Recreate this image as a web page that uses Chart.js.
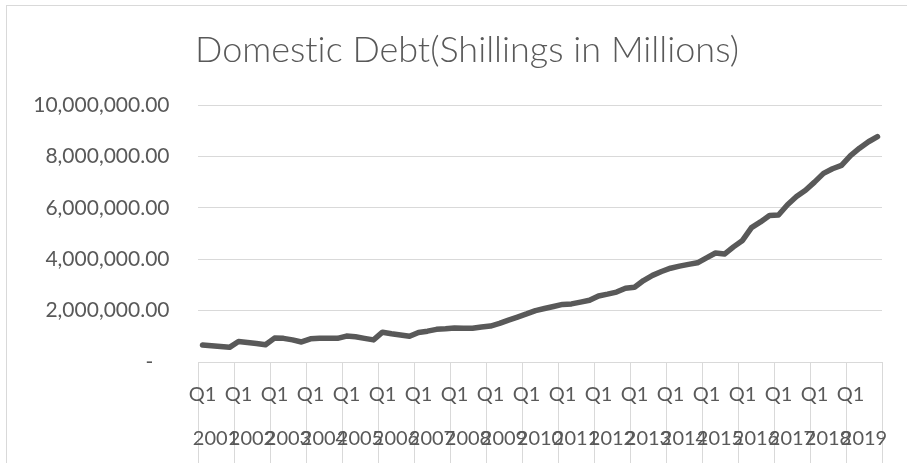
<!DOCTYPE html>
<html>
<head>
<meta charset="utf-8">
<script src="https://cdn.jsdelivr.net/npm/chart.js@4/dist/chart.umd.min.js"></script>
<style>
  html, body { margin: 0; padding: 0; background: #ffffff; overflow: hidden; }
  #frame {
    position: absolute; left: 6px; top: 5px; width: 2000px; height: 2000px;
    border: 1px solid #d9d9d9; box-sizing: border-box;
  }
  #chart { position: absolute; left: 0; top: 0; }
</style>
</head>
<body>
<div id="frame"></div>
<canvas id="chart" width="907" height="463"></canvas>
<script>
// Quarterly domestic debt, Shillings in millions
const years = ['2001','2002','2003','2004','2005','2006','2007','2008','2009','2010',
               '2011','2012','2013','2014','2015','2016','2017','2018','2019'];
const quarters = ['Q1','Q2','Q3','Q4'];
const debt = [
  660000, 630000, 600000, 570000,      // 2001
  800000, 760000, 720000, 670000,      // 2002
  930000, 920000, 860000, 780000,      // 2003
  900000, 920000, 920000, 920000,      // 2004
  1010000, 980000, 920000, 860000,     // 2005
  1160000, 1100000, 1050000, 1000000,  // 2006
  1150000, 1200000, 1270000, 1290000,  // 2007
  1320000, 1310000, 1310000, 1360000,  // 2008
  1400000, 1500000, 1630000, 1750000,  // 2009
  1870000, 2000000, 2080000, 2160000,  // 2010
  2240000, 2260000, 2330000, 2400000,  // 2011
  2570000, 2640000, 2720000, 2870000,  // 2012
  2910000, 3170000, 3370000, 3520000,  // 2013
  3650000, 3730000, 3800000, 3860000,  // 2014
  4050000, 4240000, 4200000, 4480000,  // 2015
  4730000, 5230000, 5450000, 5700000,  // 2016
  5720000, 6120000, 6440000, 6680000,  // 2017
  7000000, 7340000, 7520000, 7650000,  // 2018
  8030000, 8320000, 8570000, 8770000   // 2019
];
const yTicks = { min: 0, max: 10000000, step: 2000000 };

// one category per quarter: "Q1 2001", "Q2 2001", ...
const quarterLabels = [];
years.forEach(y => quarters.forEach(q => quarterLabels.push(q + ' ' + y)));

const TEXT = '#595959';
const GRID = '#d9d9d9';
const FONT = 'Lato';

// plain glyphs, no ligatures
const plainText = {
  id: 'plainText',
  beforeInit(chart) { chart.ctx.textRendering = 'optimizeSpeed'; },
  beforeDraw(chart) { chart.ctx.textRendering = 'optimizeSpeed'; }
};

new Chart(document.getElementById('chart'), {
  type: 'line',
  plugins: [plainText],
  data: {
    labels: quarterLabels,
    datasets: [{
      label: 'Domestic Debt',
      data: debt,
      borderColor: '#595959',
      borderWidth: 5.5,
      borderCapStyle: 'round',
      borderJoinStyle: 'round',
      pointRadius: 0,
      tension: 0,
      fill: false
    }]
  },
  options: {
    responsive: false,
    animation: false,
    devicePixelRatio: 1,
    layout: { padding: { left: 27, right: 0, top: 0, bottom: 0 } },
    plugins: {
      legend: { display: false },
      tooltip: { enabled: false },
      title: {
        display: true,
        text: 'Domestic Debt(Shillings in Millions)',
        color: TEXT,
        font: { family: FONT, size: 36, weight: '300' },
        padding: { top: 28.5, bottom: 33.3 }
      }
    },
    scales: {
      x: {
        type: 'category',
        position: 'bottom',
        weight: 0,
        offset: true,
        border: { display: true, color: GRID, width: 1 },
        grid: {
          offset: true,
          drawOnChartArea: false,
          drawTicks: true,
          tickLength: 44,
          lineWidth: 1,
          color: ctx => (ctx.index === undefined || ctx.index % 4 === 0) ? GRID : 'rgba(0,0,0,0)'
        },
        ticks: {
          autoSkip: false,
          maxRotation: 0,
          minRotation: 0,
          padding: -23.75,
          color: TEXT,
          font: { family: FONT, size: 20 },
          callback: function (value, index) {
            return index % 4 === 0 ? quarters[0] : '';
          }
        },
        afterFit: s => { s.height = 44; }
      },
      x2: {
        type: 'category',
        position: 'bottom',
        weight: 1,
        labels: years,
        offset: true,
        border: { display: false },
        grid: {
          offset: true,
          drawOnChartArea: false,
          drawTicks: true,
          tickLength: 62,
          lineWidth: 1,
          color: GRID
        },
        ticks: {
          autoSkip: false,
          maxRotation: 0,
          minRotation: 0,
          padding: -41.45,
          color: TEXT,
          font: { family: FONT, size: 20 }
        },
        afterFit: s => { s.height = 57; }
      },
      y: {
        min: yTicks.min,
        max: yTicks.max,
        border: { display: false },
        grid: { color: GRID, lineWidth: 1, drawTicks: false },
        ticks: {
          stepSize: yTicks.step,
          padding: 28.5,
          color: TEXT,
          font: { family: FONT, size: 21 },
          callback: v => v === 0 ? '-   ' :
            v.toLocaleString('en-US', { minimumFractionDigits: 2, maximumFractionDigits: 2 })
        },
        afterFit: s => { s.width = 171; }
      },
      // empty margin on the right of the plot
      y2: {
        type: 'linear',
        position: 'right',
        border: { display: false },
        grid: { display: false, drawTicks: false },
        ticks: { display: false },
        afterFit: s => { s.width = 25; }
      }
    }
  }
});
</script>
</body>
</html>
